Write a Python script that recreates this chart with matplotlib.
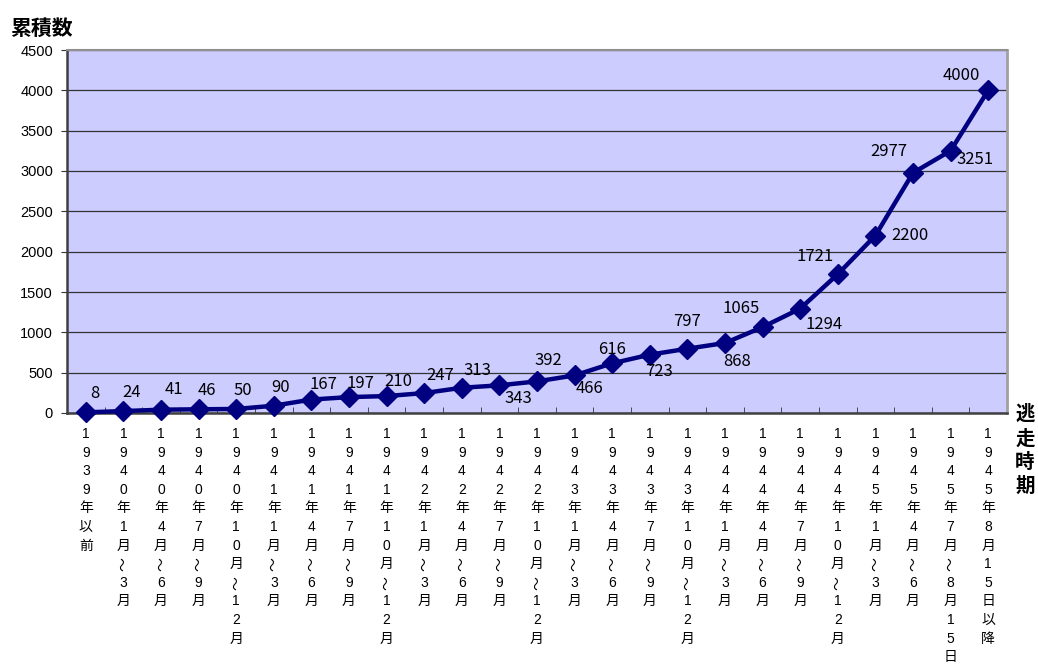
import matplotlib
matplotlib.use("Agg")
import matplotlib.pyplot as plt
from matplotlib.ticker import MultipleLocator, FixedLocator
from matplotlib.transforms import offset_copy

# escape period (one entry per quarter) and cumulative count
periods = [
    "1939年以前",
    "1940年1月～3月", "1940年4月～6月", "1940年7月～9月", "1940年10月～12月",
    "1941年1月～3月", "1941年4月～6月", "1941年7月～9月", "1941年10月～12月",
    "1942年1月～3月", "1942年4月～6月", "1942年7月～9月", "1942年10月～12月",
    "1943年1月～3月", "1943年4月～6月", "1943年7月～9月", "1943年10月～12月",
    "1944年1月～3月", "1944年4月～6月", "1944年7月～9月", "1944年10月～12月",
    "1945年1月～3月", "1945年4月～6月", "1945年7月～8月15日", "1945年8月15日以降",
]
counts = [8, 24, 41, 46, 50, 90, 167, 197, 210, 247, 313, 343, 392,
          466, 616, 723, 797, 868, 1065, 1294, 1721, 2200, 2977, 3251, 4000]

# where each value label sits relative to its marker (pixels)
label_offsets = [
    (9, 19), (8, 19), (13, 20), (8, 19), (7, 18), (7, 18), (12, 15), (11, 14),
    (12, 15), (16, 18), (16, 17), (19, -13), (11, 21), (15, -13), (0, 14),
    (9, -17), (0, 27), (12, -19), (-21, 19), (24, -16), (-23, 18), (35, 0),
    (-24, 21), (24, -9), (-27, 15),
]

JP = ["Noto Sans CJK JP", "DejaVu Sans"]
MIXED = ["Liberation Sans", "Noto Sans CJK JP", "DejaVu Sans"]

fig = plt.figure(figsize=(10.38, 6.66), dpi=100)
ax = fig.add_axes([67 / 1038, 1 - 413 / 666, 940 / 1038, 363 / 666])
ax.set_facecolor("#CCCCFF")

x = list(range(len(counts)))
ax.plot(x, counts, color="#000080", lw=3.2, marker="D", markersize=10,
        markeredgecolor="#000080", zorder=3, clip_on=False)

for xi, v, (dx, dy) in zip(x, counts, label_offsets):
    ax.annotate(str(v), (xi, v), xytext=(dx, dy), textcoords="offset pixels",
                ha="center", va="center", fontsize=12, family=JP, zorder=4)

ax.set_xlim(-0.5, len(counts) - 0.5)
ax.set_ylim(0, 4500)
ax.yaxis.set_major_locator(MultipleLocator(500))
ax.grid(axis="y", color="#333333", lw=0.9)
ax.set_axisbelow(True)

# category names stacked one character per line; the wave dash turns upright
ax.set_xticks(x)
ax.tick_params(axis="x", which="major", length=0, labelbottom=False)
base = ax.get_xaxis_transform()
for i, name in enumerate(periods):
    for j, ch in enumerate(name):
        tr = offset_copy(base, fig=fig, x=0, y=-(21 + 18.6 * j), units="dots")
        ax.text(i, 0, ch, transform=tr, ha="center", va="center",
                rotation=90 if ch == "～" else 0, family=MIXED, fontsize=10)

# small inward ticks on the category boundaries
ax.xaxis.set_minor_locator(FixedLocator([i + 0.5 for i in x[:-1]]))
ax.tick_params(axis="x", which="minor", direction="in", length=4,
               color="#333333")
ax.tick_params(axis="y", length=4, pad=6, color="#333333")
for lab in ax.get_yticklabels():
    lab.set_family("Liberation Sans")
    lab.set_fontsize(10.5)

ax.spines["left"].set_color("#404040")
ax.spines["left"].set_linewidth(1.8)
ax.spines["bottom"].set_color("#404040")
ax.spines["bottom"].set_linewidth(1.8)
ax.spines["top"].set_color("#909090")
ax.spines["top"].set_linewidth(1.5)
ax.spines["right"].set_color("#A0A0A0")
ax.spines["right"].set_linewidth(2)

fig.text(10 / 1038, 1 - 28 / 666, "累積数", family=JP, fontsize=15,
         fontweight="bold", ha="left", va="center")
fig.text(1025 / 1038, 1 - 405 / 666, "\n".join("逃走時期"), family=JP,
         fontsize=14, fontweight="bold", ha="center", va="top",
         linespacing=1.32)

fig.savefig("out.png", dpi=100)
